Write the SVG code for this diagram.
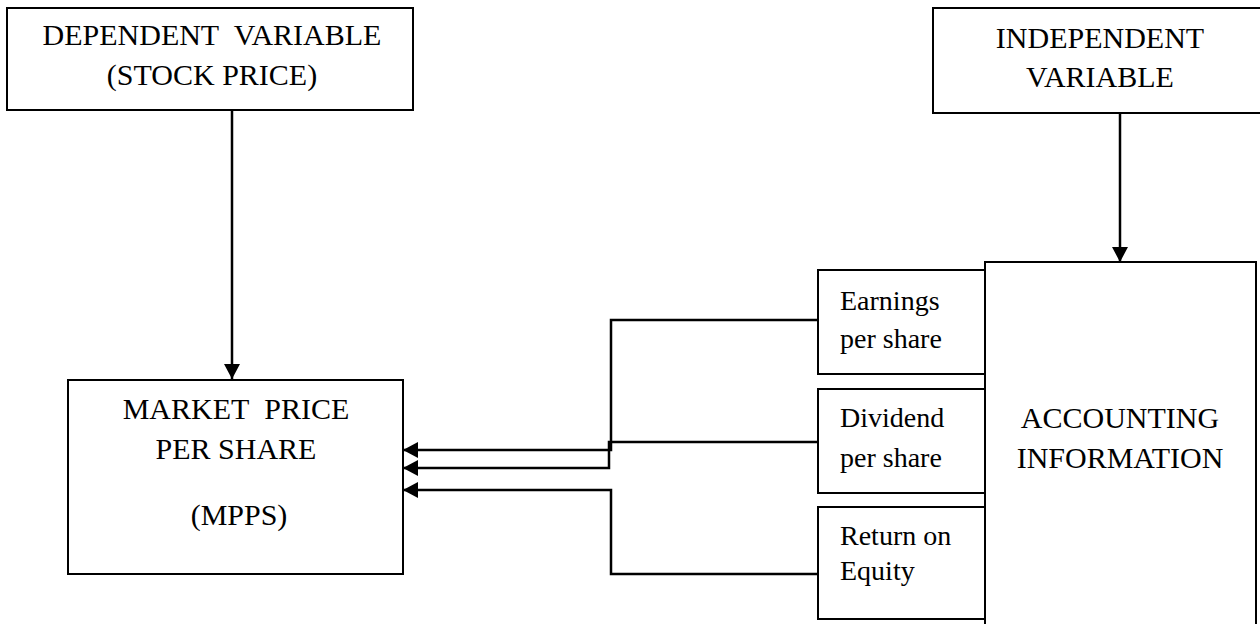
<svg xmlns="http://www.w3.org/2000/svg" width="1260" height="624" viewBox="0 0 1260 624">
<style>
.box{fill:#fff;stroke:#000;stroke-width:2}
.t{font-family:"Liberation Serif","Times New Roman",serif;font-size:30px;fill:#000}
.c{text-anchor:middle}
.s{font-family:"Liberation Serif","Times New Roman",serif;font-size:28px;fill:#000}
.ln{fill:none;stroke:#000;stroke-width:2.5}
</style>
<defs>
<marker id="ah" markerWidth="15" markerHeight="16" refX="15" refY="8" orient="auto" markerUnits="userSpaceOnUse">
<path d="M0,0 L15,8 L0,16 Z" fill="#000"/>
</marker>
</defs>
<rect width="1260" height="624" fill="#fff"/>
<g id="dependent">
<rect class="box" x="7" y="8" width="406" height="102"/>
<text class="t c" x="212" y="45">DEPENDENT&#160; VARIABLE</text>
<text class="t c" x="212" y="85">(STOCK PRICE)</text>
</g>
<g id="independent">
<rect class="box" x="933" y="8" width="340" height="105"/>
<text class="t c" x="1100" y="48">INDEPENDENT</text>
<text class="t c" x="1100" y="87">VARIABLE</text>
</g>
<g id="mpps">
<rect class="box" x="68" y="380" width="335" height="194"/>
<text class="t c" x="236" y="419">MARKET&#160; PRICE</text>
<text class="t c" x="236" y="459">PER SHARE</text>
<text class="t c" x="239" y="525">(MPPS)</text>
</g>
<g id="accounting">
<rect class="box" x="985" y="262" width="271" height="380"/>
<text class="t c" x="1120" y="428">ACCOUNTING</text>
<text class="t c" x="1120" y="468">INFORMATION</text>
</g>
<g id="eps">
<rect class="box" x="818" y="270" width="167" height="104"/>
<text class="s" x="840" y="310">Earnings</text>
<text class="s" x="840" y="348">per share</text>
</g>
<g id="dps">
<rect class="box" x="818" y="389" width="167" height="104"/>
<text class="s" x="840" y="427">Dividend</text>
<text class="s" x="840" y="467">per share</text>
</g>
<g id="roe">
<rect class="box" x="818" y="507" width="167" height="112"/>
<text class="s" x="840" y="545">Return on</text>
<text class="s" x="840" y="580">Equity</text>
</g>
<g id="connectors">
<path class="ln" d="M232,110 V379" marker-end="url(#ah)"/>
<path class="ln" d="M1120,113 V262" marker-end="url(#ah)"/>
<path class="ln" d="M818,320 H611 V450 H403" marker-end="url(#ah)"/>
<path class="ln" d="M818,442 H609 V468 H403" marker-end="url(#ah)"/>
<path class="ln" d="M818,574 H611 V490 H403" marker-end="url(#ah)"/>
</g>
</svg>
